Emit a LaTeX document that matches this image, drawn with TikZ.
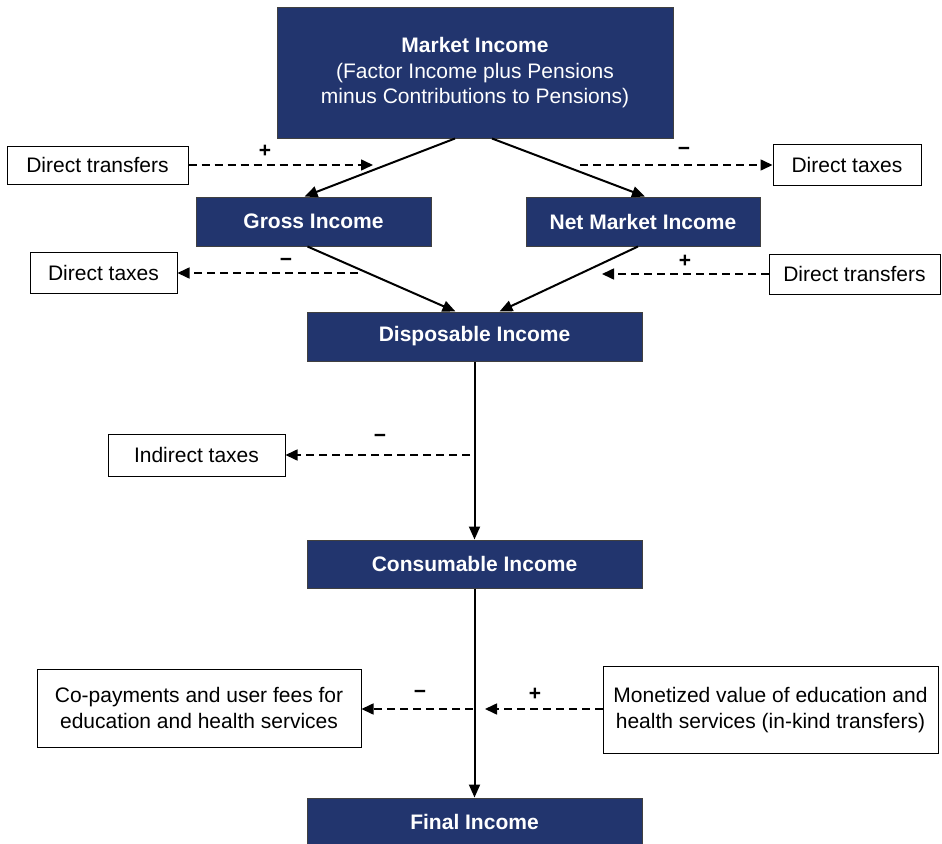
\documentclass[tikz,border=0pt]{standalone}
\usepackage{fontspec}
\setmainfont{Liberation Sans}
\usetikzlibrary{arrows.meta}
\definecolor{navy}{RGB}{34,53,110}
\begin{document}
\begin{tikzpicture}[x=1pt,y=-1pt,
 basefont/.style={font=\fontsize{21}{25.5}\selectfont},
 bluebox/.style={draw=black!75, line width=1pt, fill=navy, text=white, font=\fontsize{21}{25.5}\selectfont\bfseries, inner sep=0pt, align=center},
 whitebox/.style={draw=black, line width=1pt, fill=white, inner sep=0pt, align=center, basefont},
 flow/.style={line width=2pt, -{Triangle[length=13pt,width=11pt]}},
 side/.style={line width=1.6pt, dash pattern=on 8pt off 5pt, -{Triangle[length=12pt,width=11pt]}},
 sign/.style={font=\fontsize{21}{25.5}\selectfont\bfseries, inner sep=0pt}]
\useasboundingbox (0,0) rectangle (942,843);

% main boxes
\node[bluebox, minimum width=396pt, minimum height=130pt] (mkt) at (475,73)
  {Market Income\\\mdseries (Factor Income plus Pensions\\\mdseries minus Contributions to Pensions)};
\node[bluebox, minimum width=235pt, minimum height=49pt] (gross) at (313.5,221.5) {Gross Income};
\node[bluebox, minimum width=234pt, minimum height=49pt] (net) at (643,221.5) {Net Market Income};
\node[bluebox, minimum width=335pt, minimum height=49pt] (disp) at (474.5,336.5) {Disposable Income};
\node[bluebox, minimum width=335pt, minimum height=48pt] (cons) at (474.5,564) {Consumable Income};
\node[bluebox, minimum width=335pt, minimum height=48pt] (fin) at (474.5,822) {Final Income};

% side boxes
\node[whitebox, minimum width=181pt, minimum height=38pt] (dtl) at (97.5,165) {Direct transfers};
\node[whitebox, minimum width=148pt, minimum height=41pt] (dtr) at (847,165) {Direct taxes};
\node[whitebox, minimum width=147pt, minimum height=41pt] (dtml) at (103.5,273) {Direct taxes};
\node[whitebox, minimum width=171pt, minimum height=40pt] (dtmr) at (854.5,274) {Direct transfers};
\node[whitebox, minimum width=177pt, minimum height=42pt] (ind) at (196.5,455) {Indirect taxes};
\node[whitebox, minimum width=324pt, minimum height=78pt] (cop) at (199,708)
  {Co-payments and user fees for\\education and health services};
\node[whitebox, minimum width=335pt, minimum height=87pt] (mon) at (770.5,710)
  {Monetized value of education and\\health services (in-kind transfers)};

% free ends of dashed connectors
\coordinate (c1) at (373,165);
\coordinate (c2) at (580,165);
\coordinate (c3) at (358,273);
\coordinate (c4) at (602,274);
\coordinate (c5) at (470,455);
\coordinate (c6) at (473,709);
\coordinate (c7) at (485,709);

% solid flows
\draw[flow] ([xshift=-20pt]mkt.south) -- ([xshift=-9pt]gross.north);
\draw[flow] ([xshift=17pt]mkt.south) -- ([xshift=2pt]net.north);
\draw[flow] ([xshift=-6pt]gross.south) -- ([xshift=-19pt]disp.north);
\draw[flow] ([xshift=-5pt]net.south) -- ([xshift=25pt]disp.north);
\draw[flow] (disp.south) -- (cons.north);
\draw[flow] (cons.south) -- (fin.north);

% dashed flows
\draw[side] (dtl.east) -- (c1);
\draw[side] (c2) -- (dtr.west);
\draw[side] (c3) -- (dtml.east);
\draw[side] (dtmr.west) -- (c4);
\draw[side] (c5) -- (ind.east);
\draw[side] (c6) -- (cop.east |- c6);
\draw[side] (mon.west |- c7) -- (c7);

% signs
\node[sign] (s1) at (265,151) {+};
\node[sign] (s2) at (684,151) {−};
\node[sign] (s3) at (286,262) {−};
\node[sign] (s4) at (685,261) {+};
\node[sign] (s5) at (380,438) {−};
\node[sign] (s6) at (420,694) {−};
\node[sign] (s7) at (535,694) {+};
\end{tikzpicture}
\end{document}
